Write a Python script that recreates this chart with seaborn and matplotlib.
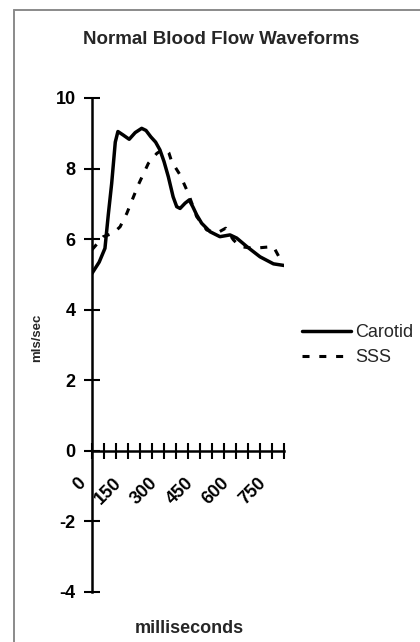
import pandas as pd
import seaborn as sns
import matplotlib
matplotlib.use('Agg')
import matplotlib.pyplot as plt
from matplotlib.lines import Line2D
from matplotlib.ticker import MultipleLocator, FuncFormatter
from matplotlib.transforms import ScaledTranslation

# values
carotid_ms = [0, 30, 54, 68, 82, 97, 108, 130, 155, 180, 207, 225, 245, 265, 283,
              300, 318, 338, 353, 367, 388, 405, 420, 436, 457,
              492, 533, 575, 603, 645, 700, 756, 804]
carotid_v = [5.03, 5.35, 5.74, 6.7, 7.58, 8.75, 9.05, 8.95, 8.83, 9.02, 9.14, 9.08,
             8.9, 8.75, 8.53, 8.2, 7.77, 7.2, 6.92, 6.87, 7.02, 7.11, 6.92, 6.69, 6.45,
             6.21, 6.07, 6.12, 6.03, 5.79, 5.50, 5.30, 5.25]
sss_ms = [0, 47, 89, 117, 145, 193, 235, 270, 290, 308, 320, 332, 367, 401, 436,
          478, 520, 557, 589, 617, 672, 756, 790]
sss_v = [5.7, 6.07, 6.17, 6.35, 6.73, 7.54, 8.15, 8.43, 8.52, 8.55, 8.45, 8.20,
         7.82, 7.30, 6.64, 6.26, 6.17, 6.31, 5.98, 5.79, 5.74, 5.79, 5.36]

df_c = pd.DataFrame({'ms': carotid_ms, 'v': carotid_v})
df_s = pd.DataFrame({'ms': sss_ms, 'v': sss_v})

sns.set_style('white')
plt.rcParams['font.family'] = ['Liberation Sans', 'DejaVu Sans']
plt.rcParams['axes.unicode_minus'] = False

fig = plt.figure(figsize=(4.2, 6.42), dpi=100)
ax = fig.add_axes([92/420, 1-592/642, 192/420, 494/642])

sns.lineplot(data=df_c, x='ms', y='v', ax=ax, color='black', lw=2.5,
             label='Carotid', sort=False, legend=False)
sns.lineplot(data=df_s, x='ms', y='v', ax=ax, color='black', lw=2.2,
             label='SSS', sort=False, legend=False)
ax.lines[1].set_dashes((2.3, 3.2))

ax.set_xlim(0, 800)
ax.set_ylim(-4, 10)
for s in ['top', 'right']:
    ax.spines[s].set_visible(False)
ax.spines['bottom'].set_position(('data', 0))
for s in ['left', 'bottom']:
    ax.spines[s].set_linewidth(1.8)
    ax.spines[s].set_color('black')

ax.yaxis.set_major_locator(MultipleLocator(2))
ax.xaxis.set_major_locator(MultipleLocator(50))
ax.xaxis.set_major_formatter(FuncFormatter(
    lambda v, p: f'{int(v)}' if v % 150 == 0 and v < 800 else ''))
ax.tick_params(axis='y', left=True, direction='inout', length=12, width=1.5, pad=5.8,
               labelsize=13, colors='black')
ax.tick_params(axis='x', bottom=True, direction='inout', length=12, width=1.5, pad=11,
               labelsize=13, colors='black')
for lab in ax.get_yticklabels():
    lab.set_fontweight('bold')
for lab in ax.get_xticklabels():
    lab.set_fontweight('bold')
    lab.set_rotation(45)
    lab.set_ha('right')
    lab.set_transform(lab.get_transform() + ScaledTranslation(-0.03, 0, fig.dpi_scale_trans))
ax.set_xlabel('')
ax.set_ylabel('')

fig.text(221/420, 1-44/642, 'Normal Blood Flow Waveforms', ha='center',
         va='baseline', fontsize=13.5, fontweight='bold')
fig.text(189/420, 1-633/642, 'milliseconds', ha='center', va='baseline',
         fontsize=13, fontweight='bold')
fig.text(43/420, 1-338/642, 'mls/sec', ha='right', va='center', rotation=90,
         fontsize=9.5, fontweight='bold')

handles, labels = ax.get_legend_handles_labels()
fig.legend(handles, labels, loc='center left', bbox_to_anchor=(293/420, 1-345/642),
           frameon=False, fontsize=13, handlelength=2.7, handletextpad=0.25,
           borderpad=0, labelspacing=0.45)

# page frame
fig.add_artist(Line2D([14/420, 1], [1-10/642, 1-10/642], color='#8a8a8a', lw=1.4))
fig.add_artist(Line2D([14/420, 14/420], [0, 1-10/642], color='#8a8a8a', lw=1.4))

fig.savefig('out.png', dpi=100)
